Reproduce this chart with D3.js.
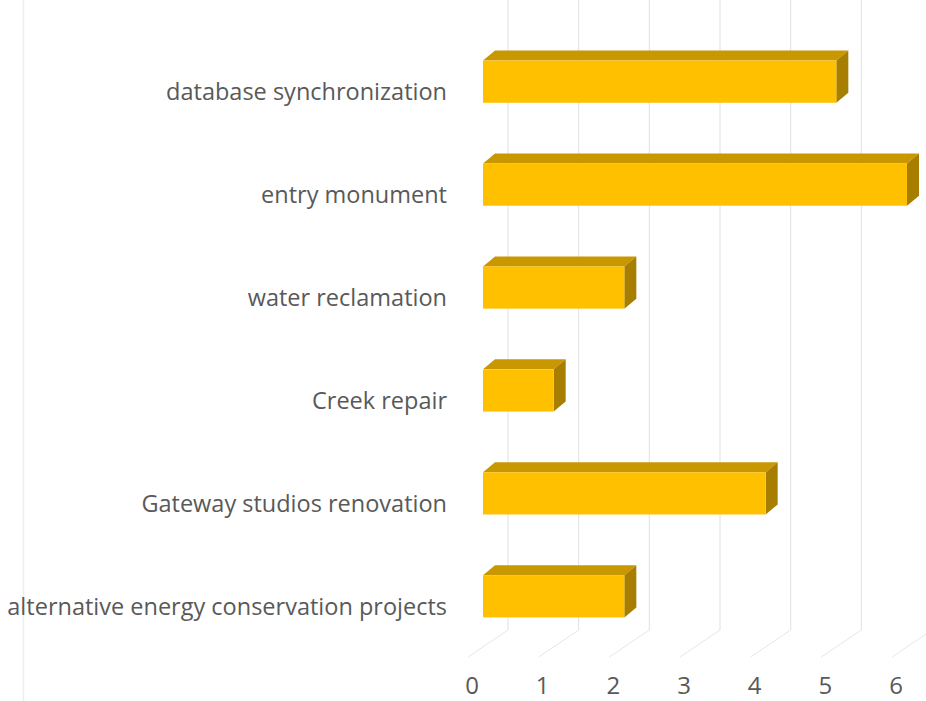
<!DOCTYPE html>
<html>
<head>
<meta charset="utf-8">
<script src="https://d3js.org/d3.v7.min.js"></script>
<style>
  html, body { margin: 0; padding: 0; background: #fff; }
  svg { display: block; }
  text { font-family: "Open Sans", Lato, sans-serif; fill: #595959; }
</style>
</head>
<body>
<div id="chart"></div>
<script>
// chart data
const categories = [
    'database synchronization',
    'entry monument',
    'water reclamation',
    'Creek repair',
    'Gateway studios renovation',
    'alternative energy conservation projects'
];
const values = [5, 6, 2, 1, 4, 2];
const tickValues = [0, 1, 2, 3, 4, 5, 6];

const width = 926;
const height = 701;

// 3D offsets (pseudo-perspective, Excel style)
const barDepth = { dx: 12, dy: -10 };      // bar front face -> bar back face
const wallDepth = { dx: 25, dy: -27 };     // bar front face -> back wall
const floorFront = { dx: -15, y: 657 };    // front edge of the floor
const floorBackY = 630;

const svg = d3.select('#chart')
    .append('svg')
    .attr('width', width)
    .attr('height', height);

// Scales
const x = d3.scaleLinear()
    .domain([0, 6])
    .range([483, 907]);

const y = d3.scaleBand()
    .domain(categories)
    .range([40, 638])
    .paddingInner(0.59)
    .paddingOuter(0.2);

// faint frame line at the left
svg.append('line')
    .attr('x1', 23.5).attr('x2', 23.5)
    .attr('y1', 0).attr('y2', height)
    .attr('stroke', '#ededed')
    .attr('stroke-width', 1.5);

// Back wall gridlines
svg.append('g')
    .selectAll('line')
    .data(tickValues)
    .enter()
    .append('line')
    .attr('x1', d => x(d) + wallDepth.dx)
    .attr('x2', d => x(d) + wallDepth.dx)
    .attr('y1', 0)
    .attr('y2', floorBackY)
    .attr('stroke', '#e0e0e0')
    .attr('stroke-width', 1);

// Floor lines
svg.append('g')
    .selectAll('line')
    .data(tickValues)
    .enter()
    .append('line')
    .attr('x1', d => x(d) + wallDepth.dx)
    .attr('y1', floorBackY)
    .attr('x2', d => x(d) + floorFront.dx)
    .attr('y2', floorFront.y)
    .attr('stroke', '#e6e6e6')
    .attr('stroke-width', 1);

// Bars
const bars = svg.append('g')
    .selectAll('g')
    .data(categories.map((c, i) => ({ name: c, value: values[i] })))
    .enter()
    .append('g');

// top face
bars.append('path')
    .attr('d', d => {
        const x0 = x(0), x1 = x(d.value), y0 = y(d.name);
        return `M${x0},${y0}L${x0 + barDepth.dx},${y0 + barDepth.dy}` +
            `L${x1 + barDepth.dx},${y0 + barDepth.dy}L${x1},${y0}Z`;
    })
    .attr('fill', '#c99700');

// side face
bars.append('path')
    .attr('d', d => {
        const x1 = x(d.value), y0 = y(d.name), y1 = y0 + y.bandwidth();
        return `M${x1},${y0}L${x1 + barDepth.dx},${y0 + barDepth.dy}` +
            `L${x1 + barDepth.dx},${y1 + barDepth.dy}L${x1},${y1}Z`;
    })
    .attr('fill', '#a87e00');

// front face
bars.append('rect')
    .attr('x', x(0))
    .attr('y', d => y(d.name))
    .attr('width', d => x(d.value) - x(0))
    .attr('height', y.bandwidth())
    .attr('fill', '#ffc000');

// Category labels
svg.append('g')
    .selectAll('text')
    .data(categories)
    .enter()
    .append('text')
    .attr('x', 447)
    .attr('y', d => y(d) + y.bandwidth() / 2 + 12)
    .attr('text-anchor', 'end')
    .attr('dominant-baseline', 'middle')
    .attr('font-size', '23.5px')
    .text(d => d);

// Value axis labels
svg.append('g')
    .selectAll('text')
    .data(tickValues)
    .enter()
    .append('text')
    .attr('x', d => x(d) - 11)
    .attr('y', 688)
    .attr('text-anchor', 'middle')
    .attr('dominant-baseline', 'middle')
    .attr('font-size', '24px')
    .text(d => d);
</script>
</body>
</html>
